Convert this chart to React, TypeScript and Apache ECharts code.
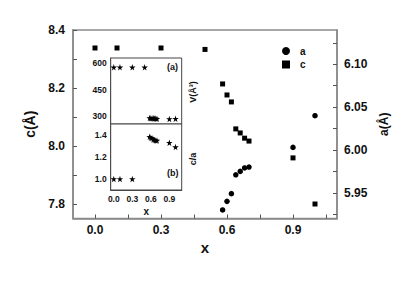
import React, { useEffect, useRef } from "react";
import * as echarts from "echarts";

// main plot: lattice parameter c (left axis)
const cX = [0, 0.1, 0.3, 0.5, 0.58, 0.6, 0.62, 0.64, 0.66, 0.68, 0.7, 0.9, 1.0];
const cVals = [8.338, 8.338, 8.338, 8.333, 8.214, 8.176, 8.152, 8.059, 8.045, 8.027, 8.017, 7.959, 7.8];
// main plot: lattice parameter a (right axis)
const aX = [0.58, 0.6, 0.62, 0.64, 0.66, 0.68, 0.7, 0.9, 1.0];
const aVals = [5.93, 5.94, 5.949, 5.971, 5.975, 5.979, 5.98, 6.003, 6.04];
// inset (a): volume
const vX = [0, 0.1, 0.3, 0.5, 0.58, 0.6, 0.62, 0.64, 0.66, 0.68, 0.7, 0.9, 1.0];
const vVals = [577, 577, 577, 577, 289, 288, 287, 287, 286, 286, 285, 284, 285];
// inset (b): c/a
const caX = [0, 0.1, 0.3, 0.58, 0.6, 0.62, 0.64, 0.66, 0.68, 0.7, 0.9, 1.0];
const caVals = [1.0, 1.0, 1.0, 1.385, 1.375, 1.37, 1.36, 1.355, 1.35, 1.35, 1.33, 1.29];

// ticks
const mainXTicks = [0, 0.15, 0.3, 0.45, 0.6, 0.75, 0.9, 1.05];
const mainXLabels = [0, 0.3, 0.6, 0.9];
const cTicks = [7.8, 7.9, 8.0, 8.1, 8.2, 8.3, 8.4];
const cLabels = [7.8, 8.0, 8.2, 8.4];
const aTicks = [5.925, 5.95, 5.975, 6.0, 6.025, 6.05, 6.075, 6.1, 6.125];
const aLabels = [5.95, 6.0, 6.05, 6.1];
const insetXTicks = [0, 0.15, 0.3, 0.45, 0.6, 0.75, 0.9, 1.05];
const insetXLabels = [0, 0.3, 0.6, 0.9];
const vTicks = [300, 375, 450, 525, 600];
const vLabels = [300, 450, 600];
const caTicks = [1.0, 1.1, 1.2, 1.3, 1.4];
const caLabels = [1.0, 1.2, 1.4];

const FONT = "Liberation Sans";
const STAR =
  "path://M50,0 L61,35 L98,35 L68,57 L79,91 L50,70 L21,91 L32,57 L2,35 L39,35 Z";

const zip = (xs: number[], ys: number[]) => xs.map((x, i) => [x, ys[i]]);

export default function App() {
  const ref = useRef<HTMLDivElement>(null);
  useEffect(() => {
    if (!ref.current) return;
    const chart = echarts.init(ref.current, null, { renderer: "svg" });
    const mainLine = { show: true, onZero: false, lineStyle: { color: "#8a8a8a", width: 1.5 } };
    const insetLine = { show: true, onZero: false, lineStyle: { color: "#444", width: 1 } };
    const lbl = (size: number) => ({
      color: "#111",
      fontFamily: FONT,
      fontWeight: "bold" as const,
      fontSize: size,
    });
    const mark = { color: "#000", opacity: 1 };
    chart.setOption({
      animation: false,
      backgroundColor: "#fff",
      textStyle: { fontFamily: FONT },
      grid: [
        { left: 73, top: 30, width: 264, height: 188.5, show: true, borderColor: "#8a8a8a", borderWidth: 1.5, backgroundColor: "transparent" },
        { left: 110.7, top: 58, width: 71, height: 66, show: true, borderColor: "#444", borderWidth: 1, backgroundColor: "#fff", z: 5 },
        { left: 110.7, top: 124, width: 71, height: 66, show: true, borderColor: "#444", borderWidth: 1, backgroundColor: "#fff", z: 5 },
      ],
      legend: {
        left: 277,
        top: 41,
        orient: "vertical",
        itemWidth: 8,
        itemHeight: 8,
        itemGap: 3.5,
        data: [
          { name: "a", icon: "circle" },
          { name: "c", icon: "rect" },
        ],
        itemStyle: { opacity: 1 },
        textStyle: { ...lbl(10), padding: [0, 0, 0, 5] },
      },
      xAxis: [
        {
          type: "value", gridIndex: 0, min: -0.1, max: 1.1,
          axisLine: mainLine,
          splitLine: { show: false },
          axisTick: { inside: true, length: 4, customValues: mainXTicks, lineStyle: { color: "#555" } },
          axisLabel: { ...lbl(12), customValues: mainXLabels, formatter: (v: number) => v.toFixed(1), margin: 5 },
          name: "x", nameLocation: "middle", nameGap: 17,
          nameTextStyle: lbl(15),
        },
        {
          type: "value", gridIndex: 1, min: -0.05, max: 1.1,
          axisLine: insetLine,
          splitLine: { show: false },
          axisTick: { inside: true, length: 2.5, customValues: insetXTicks, lineStyle: { color: "#333" } },
          axisLabel: { show: false },
        },
        {
          type: "value", gridIndex: 2, min: -0.05, max: 1.1,
          axisLine: insetLine,
          splitLine: { show: false },
          axisTick: { inside: true, length: 2.5, customValues: insetXTicks, lineStyle: { color: "#333" } },
          axisLabel: { ...lbl(8.5), customValues: insetXLabels, formatter: (v: number) => v.toFixed(1), margin: 4 },
          name: "x", nameLocation: "middle", nameGap: 16,
          nameTextStyle: lbl(10),
        },
      ],
      yAxis: [
        {
          type: "value", gridIndex: 0, min: 7.75, max: 8.4,
          axisLine: mainLine,
          splitLine: { show: false },
          axisTick: { inside: true, length: 4, customValues: cTicks, lineStyle: { color: "#555" } },
          axisLabel: { ...lbl(12), customValues: cLabels, formatter: (v: number) => v.toFixed(1), margin: 8 },
          name: "c(Å)", nameLocation: "middle", nameGap: 32,
          nameTextStyle: lbl(14),
        },
        {
          type: "value", gridIndex: 0, position: "right", min: 5.92, max: 6.14,
          axisLine: mainLine,
          splitLine: { show: false },
          axisTick: { inside: true, length: 4, customValues: aTicks, lineStyle: { color: "#555" } },
          axisLabel: { ...lbl(12), customValues: aLabels, formatter: (v: number) => v.toFixed(2), margin: 7 },
          name: "a(Å)", nameLocation: "middle", nameGap: 40,
          nameTextStyle: lbl(12),
        },
        {
          type: "value", gridIndex: 1, min: 255, max: 630,
          axisLine: insetLine,
          splitLine: { show: false },
          axisTick: { inside: true, length: 2.5, customValues: vTicks, lineStyle: { color: "#333" } },
          axisLabel: { ...lbl(8.5), customValues: vLabels, margin: 4 },
        },
        {
          type: "value", gridIndex: 2, min: 0.9, max: 1.5,
          axisLine: insetLine,
          splitLine: { show: false },
          axisTick: { inside: true, length: 2.5, customValues: caTicks, lineStyle: { color: "#333" } },
          axisLabel: { ...lbl(8.5), customValues: caLabels, formatter: (v: number) => v.toFixed(1), margin: 4 },
        },
      ],
      series: [
        {
          name: "a", type: "scatter", xAxisIndex: 0, yAxisIndex: 1,
          symbol: "circle", symbolSize: 5.5, itemStyle: mark,
          data: zip(aX, aVals),
        },
        {
          name: "c", type: "scatter", xAxisIndex: 0, yAxisIndex: 0,
          symbol: "rect", symbolSize: 5, itemStyle: mark,
          data: zip(cX, cVals),
        },
        {
          name: "V", type: "scatter", xAxisIndex: 1, yAxisIndex: 2, z: 6,
          symbol: STAR, symbolSize: 6.5, itemStyle: mark,
          data: zip(vX, vVals),
        },
        {
          name: "c/a", type: "scatter", xAxisIndex: 2, yAxisIndex: 3, z: 6,
          symbol: STAR, symbolSize: 6.5, itemStyle: mark,
          data: zip(caX, caVals),
        },
      ],
      graphic: [
        { type: "text", left: 167, top: 62, z: 10, style: { text: "(a)", font: `bold 9px "${FONT}"`, fill: "#111" } },
        { type: "text", left: 167, top: 168, z: 10, style: { text: "(b)", font: `bold 9px "${FONT}"`, fill: "#111" } },
        { type: "text", x: 193, y: 92, rotation: Math.PI / 2, z: 10, style: { text: "V(Å³)", font: `bold 9px "${FONT}"`, fill: "#111", align: "center", verticalAlign: "middle" } },
        { type: "text", x: 193, y: 159, rotation: Math.PI / 2, z: 10, style: { text: "c/a", font: `bold 9px "${FONT}"`, fill: "#111", align: "center", verticalAlign: "middle" } },
      ],
    });
    return () => chart.dispose();
  }, []);
  return <div ref={ref} style={{ width: 415, height: 291, margin: -8 }} />;
}
